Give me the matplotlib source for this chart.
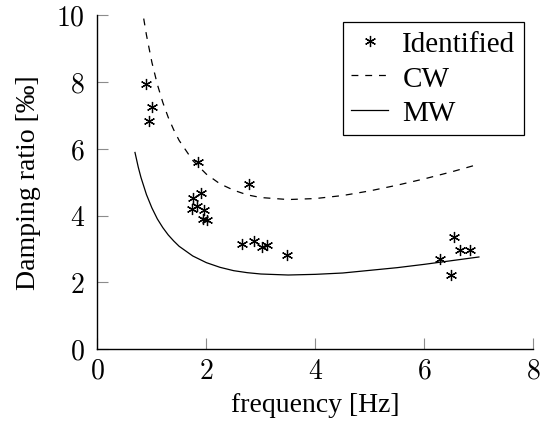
import matplotlib
matplotlib.use('Agg')
import matplotlib.pyplot as plt

#Identified modes (frequency in Hz, damping ratio in per mille)
ident_f = [0.90, 1.01, 0.95, 1.85, 2.79, 1.76, 1.90, 1.73, 1.82, 1.96, 1.94, 2.02,
           2.66, 2.88, 3.02, 3.11, 3.48, 6.55, 6.29, 6.66, 6.83, 6.49]
ident_z = [7.93, 7.25, 6.84, 5.59, 4.94, 4.54, 4.67, 4.21, 4.29, 4.17, 3.89, 3.86,
           3.16, 3.23, 3.07, 3.13, 2.81, 3.36, 2.71, 2.96, 2.96, 2.22]

#CW curve
cw_f = [0.85, 0.9, 1.0, 1.1, 1.2, 1.3, 1.4, 1.5, 1.75, 2.0, 2.25, 2.5, 2.75, 3.0,
        3.5, 4.0, 4.5, 5.0, 5.5, 6.0, 6.5, 7.0]
cw_z = [9.90, 9.41, 8.59, 7.93, 7.39, 6.94, 6.57, 6.25, 5.65, 5.24, 4.95, 4.76, 4.62, 4.54,
        4.48, 4.51, 4.60, 4.74, 4.91, 5.10, 5.31, 5.54]

#MW curve
mw_f = [0.69, 0.75, 0.8, 0.9, 1.0, 1.1, 1.2, 1.3, 1.4, 1.5, 1.75, 2.0, 2.25, 2.5, 2.75,
        3.0, 3.5, 4.0, 4.5, 5.0, 5.5, 6.0, 6.5, 7.0]
mw_z = [5.89, 5.45, 5.14, 4.63, 4.23, 3.90, 3.64, 3.42, 3.24, 3.08, 2.79, 2.59, 2.45, 2.35, 2.29,
        2.25, 2.22, 2.24, 2.28, 2.36, 2.44, 2.54, 2.65, 2.76]

xticks = [0, 2, 4, 6, 8]
yticks = [0, 2, 4, 6, 8, 10]

plt.rcParams['mathtext.fontset'] = 'cm'
plt.rcParams['font.family'] = ['Liberation Serif', 'DejaVu Serif']
fs = 20

fig = plt.figure(figsize=(5.41, 4.27), dpi=100)
ax = fig.add_axes([0.180, 0.180, 0.806, 0.782])

ax.plot(ident_f, ident_z, linestyle='none', marker=(6, 2, 0), markersize=8,
        markeredgewidth=0.9, color='black', label='Identified')
ax.plot(cw_f, cw_z, color='black', linewidth=0.9, dashes=(5.5, 5.5), label='CW')
ax.plot(mw_f, mw_z, color='black', linewidth=0.9, label='MW')

ax.set_xlim(0, 8)
ax.set_ylim(0, 10)
ax.set_xticks(xticks, labels=['$%d$' % t for t in xticks])
ax.set_yticks(yticks, labels=['$%d$' % t for t in yticks])
ax.tick_params(axis='both', direction='in', length=8, width=0.8, color='0.55', labelsize=fs)
ax.tick_params(axis='x', pad=7)
ax.tick_params(axis='y', pad=9)

ax.spines['top'].set_visible(False)
ax.spines['right'].set_visible(False)
ax.spines['left'].set_linewidth(1.0)
ax.spines['bottom'].set_linewidth(1.0)

ax.set_xlabel('frequency [Hz]', fontsize=fs, labelpad=6)
ax.set_ylabel('Damping ratio [‰]', fontsize=fs, labelpad=11)

leg = ax.legend(loc='upper right', bbox_to_anchor=(0.979, 0.98), fontsize=21, frameon=True,
                fancybox=False, edgecolor='black', framealpha=1, handlelength=1.25,
                handletextpad=0.5, borderpad=0.3, labelspacing=0.28, borderaxespad=0)
leg.get_frame().set_linewidth(0.9)

plt.savefig('out.png', dpi=100)
